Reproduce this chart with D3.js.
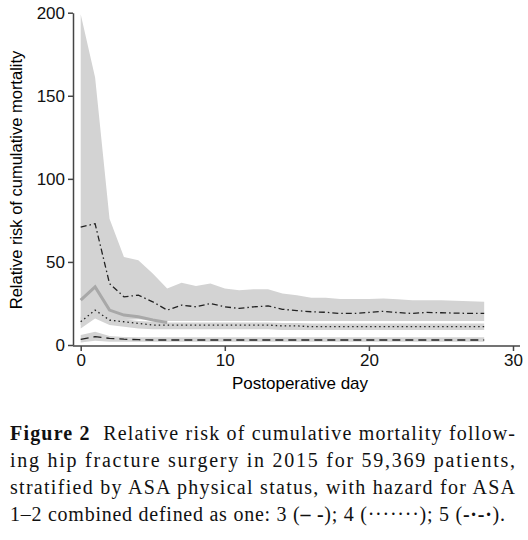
<!DOCTYPE html><html><head><meta charset="utf-8">
<script src="https://cdn.jsdelivr.net/npm/d3@7"></script>
<style>body{margin:0;background:#fff}</style></head><body>
<svg id="c" width="528" height="540"></svg>
<script>
const days=d3.range(0,29);
const asa5=[71,73,37,29,30,26,21,24,23,25,23,22,23,23.5,21.5,20.7,20,19.7,19,19,19.6,20.3,19.5,19,19.6,19.4,19.2,19,19];
const asa5Hi=[199,161,76,53,51,43,34,37.5,35.5,37,34,33,33.5,33.5,31,30,28.5,28.5,27.7,27.7,27.7,28,27.5,27,27,27,26.6,26.4,26];
const asa5Lo=[12,17,16,15,15.5,15,14.5,14.5,14.5,14.5,14.5,14.5,14.5,14.5,14.5,14.5,14.5,14.5,14.5,14.5,14.5,14.5,14.5,14.5,14.5,14.5,14.5,14.5,14.5];
const asa4=[14,21,15,14,13,12,12,12,12,12,12,12,12,12,11.5,11.5,11,11,11,11,11,11,11,11,11,11,11,11,11];
const asa4Hi=[17,24,17.5,15.5,14.5,14,13.5,13.5,13.5,13.5,13.5,13.5,13.5,13.5,13.2,13.2,13,13,13,13,13,13,13,13,13,13,13,13,13];
const asa4Lo=[10,16,12,11,10,9.5,9.5,9.5,9.5,9.5,9.5,9.5,9.5,9.5,9,9,9,9,9,9,9,9,9,9,9,9,9,9,9];
const greyDays=[0,1,2,3,4,5,6];
const greyLine=[27,35,21,18,17,15,13.5];
const asa3=[3.4,5,4,3.5,3.2,3,3,3,3,3,3,3,3,3,3,3,3,3,3,3,3,3,3,3,3,3,3,3,3];
const asa3Hi=[6,8,5.4,4.8,4.6,4.6,4.6,4.6,4.6,4.6,4.6,4.6,4.6,4.6,4.6,4.6,4.6,4.6,4.6,4.6,4.6,4.6,4.6,4.6,4.6,4.6,4.6,4.6,4.6];
const asa3Lo=[1.5,2.5,2,2,2,2,2,2,2,2,2,2,2,2,2,2,2,2,2,2,2,2,2,2,2,2,2,2,2];
const xTicks=[0,10,20,30], yTicks=[0,50,100,150,200];
const caption=[
 [["Figure 2",true],["  Relative risk of cumulative mortality follow-",false]],
 [["ing hip fracture surgery in 2015 for 59,369 patients,",false]],
 [["stratified by ASA physical status, with hazard for ASA",false]],
 [["1–2 combined defined as one: 3 (",false],["– -",true],["); 4 (",false],["·······",false],["); 5 (",false],["-·-·",true],[").",false]]
];
const capLen=[505,505,505,495];
const svg=d3.select("#c");
const x=d3.scaleLinear().domain([0,30]).range([80.7,513]);
const y=d3.scaleLinear().domain([0,200]).range([345,12.7]);
const g=svg.append("g");
const area=(hi,lo)=>d3.area().x((d,i)=>x(days[i])).y0((d,i)=>y(lo[i])).y1(d=>y(d));
g.append("path").attr("d",area(asa5Hi,asa5Lo)(asa5Hi)).attr("fill","#d3d3d3");
g.append("path").attr("d",area(asa4Hi,asa4Lo)(asa4Hi)).attr("fill","#d3d3d3");
g.append("path").attr("d",area(asa3Hi,asa3Lo)(asa3Hi)).attr("fill","#d3d3d3");
const ln=d3.line().x((d,i)=>x(days[i])).y(d=>y(d));
g.append("path").attr("d",d3.line().x((d,i)=>x(greyDays[i])).y(d=>y(d))(greyLine)).attr("fill","none").attr("stroke","#a8a8a8").attr("stroke-width",3);
g.append("path").attr("d",ln(asa5)).attr("fill","none").attr("stroke","#222").attr("stroke-width",1.3).attr("stroke-dasharray","6,3,1.5,3");
g.append("path").attr("d",ln(asa4)).attr("fill","none").attr("stroke","#222").attr("stroke-width",1.3).attr("stroke-dasharray","1.5,3");
g.append("path").attr("d",ln(asa3)).attr("fill","none").attr("stroke","#222").attr("stroke-width",1.3).attr("stroke-dasharray","8,5");
const xa=svg.append("g").attr("transform","translate(0,346)").call(d3.axisBottom(x).tickValues(xTicks).tickSize(5).tickSizeOuter(0));
const ya=svg.append("g").attr("transform","translate(73,0)").call(d3.axisLeft(y).tickValues(yTicks).tickSize(5).tickSizeOuter(0));
xa.select(".domain").attr("d","M73,0H520");
[xa,ya].forEach(a=>{a.selectAll("path,line").attr("stroke","#444").attr("stroke-width",1.5);a.selectAll("text").attr("font-family","Liberation Sans").attr("font-size",17).attr("fill","#111");});
svg.append("text").attr("x",300).attr("y",389).attr("text-anchor","middle").attr("font-family","Liberation Sans").attr("font-size",17).text("Postoperative day");
svg.append("text").attr("transform","translate(22,180) rotate(-90)").attr("text-anchor","middle").attr("font-family","Liberation Sans").attr("font-size",16.5).text("Relative risk of cumulative mortality");
caption.forEach((line,i)=>{const t=svg.append("text").attr("x",10).attr("y",440+i*27).attr("font-family","Liberation Serif").attr("font-size",20).attr("fill","#111").attr("xml:space","preserve").attr("textLength",capLen[i]).attr("lengthAdjust","spacing");
 line.forEach(([s,b])=>t.append("tspan").attr("font-weight",b?"bold":"normal").text(s));});
</script></body></html>
